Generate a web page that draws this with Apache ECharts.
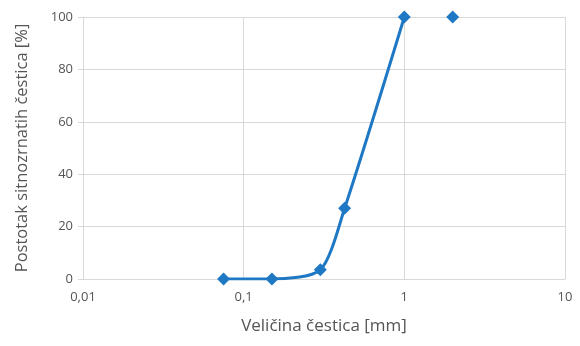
<!DOCTYPE html>
<html><head><meta charset="utf-8">
<script src="https://cdn.jsdelivr.net/npm/echarts@6/dist/echarts.min.js"></script>
<style>html,body{margin:0;padding:0;background:#fff}#c{width:580px;height:346px}</style>
</head><body><div id="c"></div>
<script>
const curveSizes = [0.075, 0.15, 0.3, 0.425, 1];
const curvePass = [0, 0, 3.5, 27, 100];
const extraSizes = [2];
const extraPass = [100];
const xName = 'Veličina čestica [mm]';
const yName = 'Postotak sitnozrnatih čestica [%]';

const blue = '#1f78c4';
const txt = '#555';
const chart = echarts.init(document.getElementById('c'), null, {renderer: 'canvas'});
chart.setOption({
  animation: false,
  grid: {left: 83, right: 15, top: 17, bottom: 67},
  xAxis: {
    type: 'log', logBase: 10, min: 0.01, max: 10,
    name: xName, nameLocation: 'middle', nameGap: 39,
    nameTextStyle: {color: txt, fontSize: 17, fontFamily: 'Open Sans'},
    axisLine: {show: true, lineStyle: {color: '#d9d9d9'}},
    axisTick: {show: false},
    splitLine: {show: true, lineStyle: {color: '#d9d9d9'}},
    axisLabel: {color: txt, fontSize: 13, fontFamily: 'Open Sans', margin: 12,
      formatter: v => String(Number(v.toPrecision(6))).replace('.', ',')}
  },
  yAxis: {
    type: 'value', min: 0, max: 100, interval: 20,
    name: yName, nameLocation: 'middle', nameGap: 52,
    nameTextStyle: {color: txt, fontSize: 16.5, fontFamily: 'Open Sans'},
    axisLine: {show: true, lineStyle: {color: '#d9d9d9'}},
    axisTick: {show: true, length: 5, lineStyle: {color: '#d9d9d9'}},
    splitLine: {show: true, lineStyle: {color: '#d9d9d9'}},
    axisLabel: {color: txt, fontSize: 13, fontFamily: 'Open Sans', margin: 10}
  },
  series: [
    {
      type: 'line', smooth: 0.25,
      data: curveSizes.map((x, i) => [x, curvePass[i]]),
      symbol: 'diamond', symbolSize: 13,
      lineStyle: {color: blue, width: 3},
      itemStyle: {color: blue}
    },
    {
      type: 'scatter',
      data: extraSizes.map((x, i) => [x, extraPass[i]]),
      symbol: 'diamond', symbolSize: 13,
      itemStyle: {color: blue, opacity: 1}
    }
  ]
});
</script></body></html>
